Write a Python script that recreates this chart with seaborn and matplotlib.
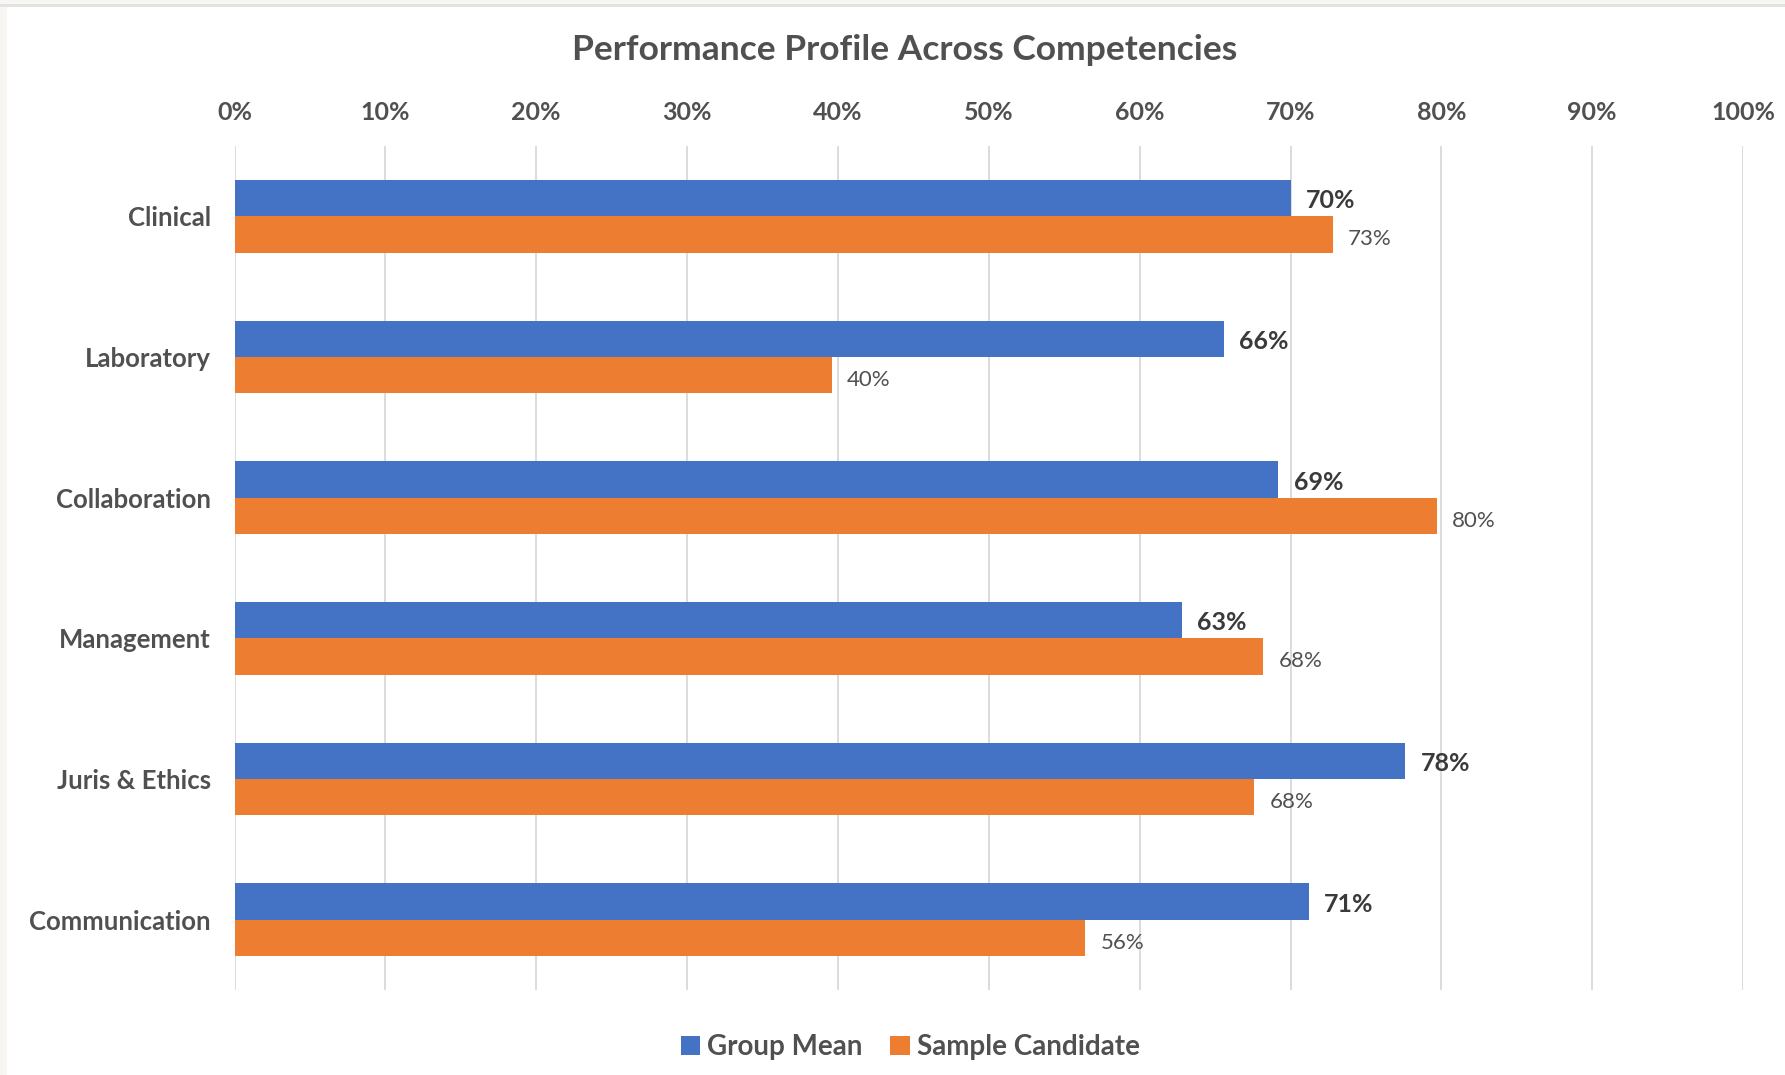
import matplotlib
matplotlib.use("Agg")
import matplotlib.pyplot as plt
import seaborn as sns
import pandas as pd
from matplotlib.patches import Rectangle
from matplotlib.ticker import FixedLocator

categories = ["Clinical", "Laboratory", "Collaboration", "Management", "Juris & Ethics", "Communication"]
group_mean = [0.700, 0.656, 0.692, 0.628, 0.776, 0.712]
sample_candidate = [0.728, 0.396, 0.797, 0.682, 0.676, 0.564]
series_names = ["Group Mean", "Sample Candidate"]
x_ticks = [0.0, 0.1, 0.2, 0.3, 0.4, 0.5, 0.6, 0.7, 0.8, 0.9, 1.0]
x_tick_labels = ["0%", "10%", "20%", "30%", "40%", "50%", "60%", "70%", "80%", "90%", "100%"]
title = "Performance Profile Across Competencies"

df = pd.DataFrame({
    "Competency": categories * 2,
    "Score": group_mean + sample_candidate,
    "Series": [series_names[0]] * len(categories) + [series_names[1]] * len(categories),
})

sns.set_theme(style="white")
plt.rcParams["font.family"] = ["Lato", "DejaVu Sans"]

TXT = "#505050"
DARK = "#3A3A3A"
palette = {"Group Mean": "#4472C4", "Sample Candidate": "#ED7D31"}

fig = plt.figure(figsize=(17.85, 10.75), dpi=100)
fig.patch.set_facecolor("white")
# screenshot frame
fig.patches.append(Rectangle((0, 0), 7 / 1785, 1, transform=fig.transFigure, facecolor="#F7F6F2", edgecolor="none", zorder=0))
fig.patches.append(Rectangle((0, 1 - 4 / 1075), 1, 4 / 1075, transform=fig.transFigure, facecolor="#F7F6F2", edgecolor="none", zorder=0))
fig.patches.append(Rectangle((0, 1 - 7 / 1075), 1, 2.5 / 1075, transform=fig.transFigure, facecolor="#E2E2E0", edgecolor="none", zorder=0))

ax = fig.add_axes([0.1314, 0.0791, 0.8451, 0.7851])
sns.barplot(data=df, y="Competency", x="Score", hue="Series", order=categories,
            hue_order=series_names, palette=palette, orient="h", width=0.516,
            saturation=1.0, linewidth=0, ax=ax, legend=True, zorder=3)

ax.set_xlim(0, 1.0)
ax.set_ylim(len(categories) - 0.5, -0.5)
ax.xaxis.set_major_locator(FixedLocator(x_ticks))
ax.set_xticklabels(x_tick_labels)
ax.xaxis.tick_top()
ax.tick_params(axis="x", length=0, pad=16, labelsize=18, labelcolor=TXT)
ax.tick_params(axis="y", length=0, pad=17, labelsize=18.5, labelcolor=TXT)
for lbl in ax.get_xticklabels() + ax.get_yticklabels():
    lbl.set_fontweight("bold")
ax.set_xlabel("")
ax.set_ylabel("")
ax.grid(axis="x", color="#D9D9D9", linewidth=1.3, zorder=0)
ax.grid(axis="y", visible=False)
for s in ax.spines.values():
    s.set_visible(False)

fmt = lambda v: f"{v * 100:.0f}%"
anns0 = ax.bar_label(ax.containers[0], labels=[fmt(v) for v in group_mean], padding=11,
                     fontsize=18, fontweight="bold", color=DARK)
anns1 = ax.bar_label(ax.containers[1], labels=[fmt(v) for v in sample_candidate], padding=11,
                     fontsize=16, color=TXT)
for a in anns0:
    a.xyann = (11, -2)
for a in anns1:
    a.xyann = (11, -3.5)

leg = ax.legend(loc="center", bbox_to_anchor=(0.51, 1 - 1047 / 1075), bbox_transform=fig.transFigure,
                ncol=2, frameon=False, handlelength=0.7, handleheight=0.7, handletextpad=0.25,
                columnspacing=1.0, prop={"size": 20, "weight": "bold"})
for t in leg.get_texts():
    t.set_color(TXT)

fig.text(0.507, 1 - 50 / 1075, title, ha="center", va="center", fontsize=25.5,
         fontweight="bold", color=TXT)

fig.savefig("out.png", dpi=100, facecolor=fig.get_facecolor())
